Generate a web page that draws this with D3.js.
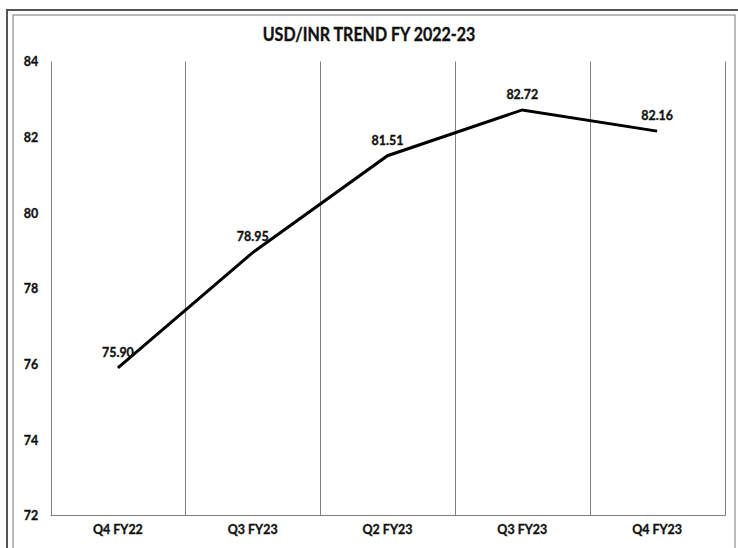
<!DOCTYPE html>
<html>
<head>
<meta charset="utf-8">
<script src="https://cdn.jsdelivr.net/npm/d3@7"></script>
<style>
  html, body { margin: 0; padding: 0; background: #fff; }
  svg { display: block; }
  text { font-family: Lato, "Open Sans", sans-serif; font-weight: bold; fill: #111; stroke: #111; stroke-width: 0.35px; }
</style>
</head>
<body>
<svg id="chart" width="738" height="548"></svg>
<script>
const title = "USD/INR TREND FY 2022-23";
const categories = ["Q4 FY22", "Q3 FY23", "Q2 FY23", "Q3 FY23 ", "Q4 FY23"];
const categoryLabels = ["Q4 FY22", "Q3 FY23", "Q2 FY23", "Q3 FY23", "Q4 FY23"];
const values = [75.90, 78.95, 81.51, 82.72, 82.16];
const yTicks = [72, 74, 76, 78, 80, 82, 84];

const svg = d3.select("#chart");
const m = { left: 50.5, right: 724.5, top: 61.5, bottom: 515.5 };
const SX = 0.89;

// frame (double border)
svg.append("rect").attr("x", 7).attr("y", 10).attr("width", 740).attr("height", 560)
  .attr("fill", "none").attr("stroke", "#555").attr("stroke-width", 2);
svg.append("rect").attr("x", 13).attr("y", 15).attr("width", 722).attr("height", 550)
  .attr("fill", "none").attr("stroke", "#777").attr("stroke-width", 1);

const x = d3.scaleBand().domain(categories).range([m.left, m.right]).padding(0);
const y = d3.scaleLinear().domain([72, 84]).range([m.bottom, m.top]);

// title
svg.append("text").attr("transform", `translate(369,41) scale(${SX},1)`).attr("text-anchor", "middle")
  .style("font-size", "18px").text(title);

// vertical gridlines at band boundaries
const bounds = categories.map(c => x(c)).concat([x(categories[categories.length - 1]) + x.bandwidth()]);
svg.append("g").selectAll("line").data(bounds).join("line")
  .attr("x1", d => Math.round(d) + 0.5).attr("x2", d => Math.round(d) + 0.5)
  .attr("y1", y(84)).attr("y2", y(72))
  .attr("stroke", "#808080").attr("stroke-width", 1);
// bottom baseline
svg.append("line").attr("x1", m.left).attr("x2", m.right + 1)
  .attr("y1", y(72)).attr("y2", y(72)).attr("stroke", "#808080").attr("stroke-width", 1);

// y axis labels
const yAxis = d3.axisLeft(y).tickValues(yTicks).tickSize(0).tickPadding(0);
const gy = svg.append("g").attr("transform", "translate(31,0)").call(yAxis);
gy.select(".domain").remove();
gy.selectAll("text").style("font-size", "14px").attr("dy", "0.32em").attr("text-anchor", "middle")
  .attr("x", 0).attr("transform", `scale(${SX},1)`);

// x axis labels
const xAxis = d3.axisBottom(x).tickSize(0).tickPadding(0).tickFormat((d, i) => categoryLabels[i]);
const gx = svg.append("g").attr("transform", `translate(0,${y(72) + 9})`).call(xAxis);
gx.select(".domain").remove();
gx.selectAll("text").style("font-size", "14px").attr("dy", "0.71em").attr("transform", `scale(${SX},1)`);

// line
const cx = (d, i) => x(categories[i]) + x.bandwidth() / 2;
const line = d3.line().x((d, i) => cx(d, i)).y(d => y(d));
svg.append("path").datum(values).attr("d", line)
  .attr("fill", "none").attr("stroke", "#000").attr("stroke-width", 3)
  .attr("stroke-linejoin", "miter");

// data labels
svg.append("g").selectAll("text").data(values).join("text")
  .attr("transform", (d, i) => `translate(${cx(d, i)},${y(d) - 16}) scale(${SX},1)`)
  .attr("dy", "0.35em").attr("text-anchor", "middle")
  .style("font-size", "14px").text(d => d.toFixed(2));
</script>
</body>
</html>
